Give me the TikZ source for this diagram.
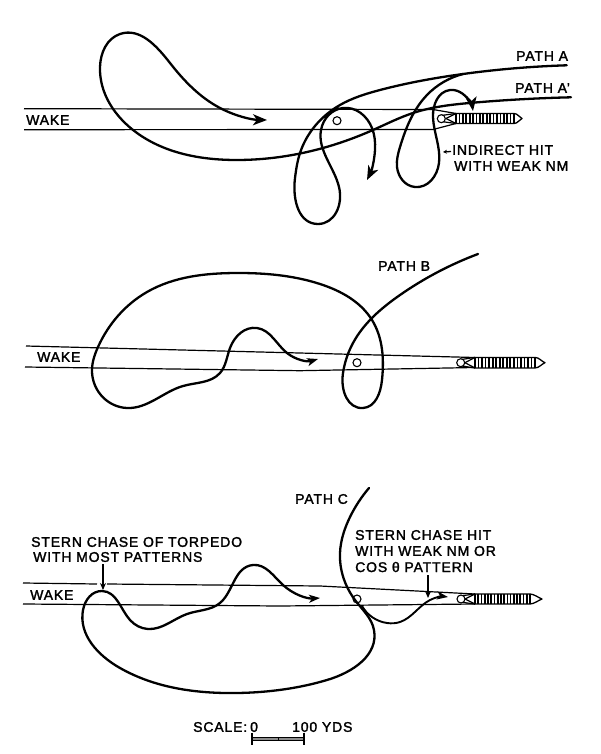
\documentclass[tikz,border=0pt]{standalone}
\usepackage{fontspec}
\usetikzlibrary{arrows.meta,hobby}
\setmainfont[LetterSpace=6,FakeBold=1.8]{Liberation Sans}
\tikzset{
 course/.style={line width=2.3pt,line join=round,line cap=round,use Hobby shortcut},
 courseend/.style={course,-{Stealth[length=14pt,width=11pt,inset=4pt]}},
 courseendsmall/.style={course,-{Stealth[length=11pt,width=8pt,inset=3pt]}},
 wakeline/.style={line width=1.2pt},
 lbl/.style={font=\fontsize{14}{15}\selectfont,inner sep=0pt,anchor=west},
 ring/.style={circle,draw,line width=1.1pt,minimum size=8pt,inner sep=0pt,fill=white},
 pointer/.style={line width=1.4pt,-{Stealth[length=7pt,width=6pt]}},
}
\newcommand{\torpedo}[5]{% x start, y center, half height, hatch end, nose
  \draw[line width=1.3pt,fill=white,line join=round] (#1,#2-#3) -- (#4,#2-#3) .. controls (#4+4,#2-#3) and (#5-3,#2-1) .. (#5,#2) .. controls (#5-3,#2+1) and (#4+4,#2+#3) .. (#4,#2+#3) -- (#1,#2+#3) -- cycle;
  \foreach \hx in {0,...,17}{
    \draw[line width=1.7pt] ({#1+\hx*(#4-#1)/17},#2-#3) -- ({#1+\hx*(#4-#1)/17},#2+#3);
  }
  \draw[line width=1.2pt] (#1-15,#2-3) -- (#1,#2-#3);
  \draw[line width=1.2pt] (#1-15,#2+3) -- (#1,#2+#3);
  \draw[line width=1.2pt] (#1-10,#2) -- (#1,#2-#3);
  \draw[line width=1.2pt] (#1-10,#2) -- (#1,#2+#3);
}
\begin{document}
\begin{tikzpicture}[x=1pt,y=-1pt]
\useasboundingbox (0,0) rectangle (600,754);
\fill[white] (0,0) rectangle (600,754);

% ===== Diagram A =====
\coordinate (at1) at (24,108.7);
\coordinate (at2) at (433,109.5);
\coordinate (at3) at (456,113.5);
\coordinate (ab1) at (24,129.7);
\coordinate (ab2) at (433,129.5);
\coordinate (ab3) at (456,123.5);
\draw[wakeline] (at1) -- (at2) -- (at3);
\draw[wakeline] (ab1) -- (ab2) -- (ab3);
\torpedo{456}{118.5}{5}{514}{522}
\node[ring] (a1) at (337,120.7) {};
\node[ring] (a2) at (441.3,118.7) {};

\coordinate (pA) at (566.7,65.3);
\coordinate (pAp) at (571,97.3);
\coordinate (tA1) at (267,120);
\coordinate (tA2) at (367,180);
\coordinate (tA3) at (473,111);
% A' to the long loop
\draw[courseend] (pAp) .. (473,102.7) .. (413,113) .. (373,130) .. (323,148) .. (237,160) .. (137,133) .. (100,67) .. (120,34) .. (170,63) .. (220,108) .. (tA1);
% A to the lower loop and arrow
\draw[courseend] (pA) .. (463,74) .. (380,90) .. (340,105) .. (300,153) .. (295,178) .. (318,224) .. (339,187) .. (321,130) .. (343,108) .. (372,128) .. (375,150) .. (tA2);
% A second branch
\draw[courseend] (463,74) .. (427,95) .. (400,147) .. (397,167) .. (415,187) .. (439,163) .. (433,117) .. (450,90) .. (463,94) .. (tA3);

\node[lbl] (lA) at (516,56) {PATH A};
\node[lbl] (lAp) at (515,88) {PATH A'};
\node[lbl] (wA) at (26,120) {WAKE};
\node[lbl] (hit1) at (452,150) {INDIRECT HIT};
\node[lbl] (hit2) at (454,166) {WITH WEAK NM};
\coordinate (hitp) at (443,152);
\draw[line width=1.3pt,-{Stealth[length=4pt,width=4pt]}] (451,151.5) -- (hitp);

% ===== Diagram B =====
\coordinate (bt1) at (26,346);
\coordinate (bt2) at (475,357.5);
\coordinate (bb1) at (25,367);
\coordinate (bb2) at (300,370.7);
\coordinate (bb3) at (475,367.5);
\draw[wakeline] (bt1) -- (bt2);
\draw[wakeline] (bb1) -- (bb2) -- (bb3);
\torpedo{475}{362.7}{5.3}{535}{545}
\node[ring] (b1) at (357,362.7) {};
\node[ring] (b2) at (460.7,362.7) {};
\coordinate (pB) at (478,254);
\coordinate (tB) at (318,359);
\draw[courseendsmall] (pB) .. (400,295) .. (353,343) .. (343,373) .. (363,408) .. (382,380) .. (372,320) .. (320,284) .. (237,273) .. (147,292) .. (98,347) .. (92,372) .. (127,408) .. (183,386) .. (220,373) .. (230,348) .. (257,328) .. (287,353) .. (tB);
\node[lbl] (lB) at (378,266) {PATH B};
\node[lbl] (wB) at (37,357) {WAKE};

% ===== Diagram C =====
\coordinate (ct1) at (23,583);
\coordinate (ct2) at (97,584);
\coordinate (ct3) at (107,584);
\coordinate (ct4) at (475,594);
\coordinate (cb1) at (23,604);
\coordinate (cb2) at (280,606);
\coordinate (cb3) at (475,604);
\draw[wakeline] (ct1) -- (ct2);
\draw[wakeline] (ct3) -- (320,586) -- (ct4);
\draw[wakeline] (cb1) -- (cb2) -- (cb3);
\torpedo{475}{599}{5}{530}{542}
\node[ring] (c1) at (357,599) {};
\node[ring] (c2) at (461,599) {};
\coordinate (pC) at (369,488);
\coordinate (tC1) at (320,598);
\coordinate (tC2) at (448,597);
\draw[courseendsmall] (pC) .. (350,517) .. (340,553) .. (355,600) .. (374,630) .. (327,680) .. (237,693) .. (120,668) .. (83,610) .. (102,591) .. (130,620) .. (148,629) .. (187,614) .. (220,603) .. (253,565) .. (283,585) .. (tC1);
\draw[courseendsmall,line width=1.9pt] (362,606) .. (387,623) .. (400,622) .. (430,600) .. (tC2);
\node[lbl] (lC) at (295,499) {PATH C};
\node[lbl] (wC) at (30,595) {WAKE};
\node[lbl] (s1) at (31,542) {STERN CHASE OF TORPEDO};
\node[lbl] (s2) at (33,557) {WITH MOST PATTERNS};
\node[lbl] (h1) at (355,535) {STERN CHASE HIT};
\node[lbl] (h2) at (355,551) {WITH WEAK NM OR};
\node[lbl] (h3) at (355,567) {COS θ PATTERN};
\coordinate (s0) at (103,564);
\coordinate (s3) at (103,590);
\coordinate (h0) at (428,575);
\coordinate (h4) at (428,598);
\draw[pointer] (s0) -- (s3);
\draw[pointer] (h0) -- (h4);

% ===== Scale =====
\node[lbl] (sc) at (193,727) {SCALE:};
\node[lbl] (sc0) at (250,727) {0};
\node[lbl] (sc1) at (292,727) {100 YDS};
\coordinate (x0) at (252,738.5);
\coordinate (x1) at (304,738.5);
\fill[black!45] (252,737) rectangle (304,740);
\draw[line width=1pt] (252,737) -- (304,737);
\draw[line width=1pt] (252,740) -- (304,740);
\draw[line width=1.3pt] (252,733) -- (252,745);
\draw[line width=1.3pt] (304,733) -- (304,745);
\draw[line width=1pt] (278,737) -- (278,740);
\end{tikzpicture}
\end{document}
